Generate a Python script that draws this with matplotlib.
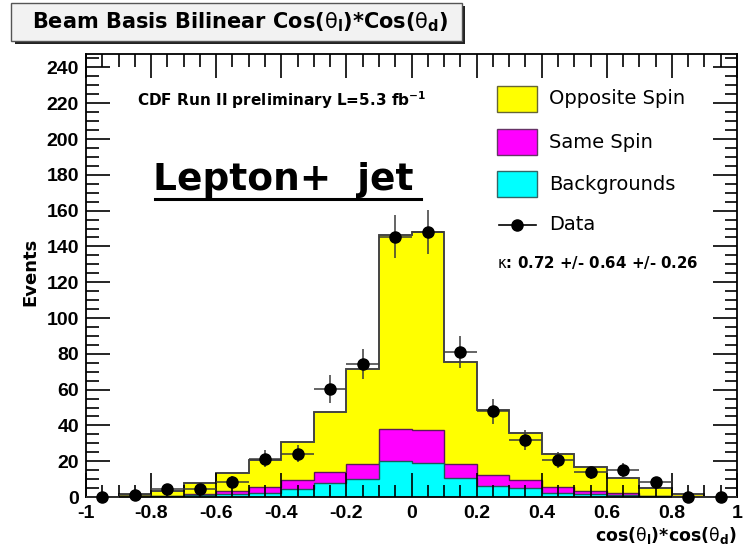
import numpy as np
import matplotlib
matplotlib.use('Agg')
import matplotlib.pyplot as plt
from matplotlib.patches import Rectangle
from matplotlib.lines import Line2D
from matplotlib.ticker import MultipleLocator

plt.rcParams['font.family'] = 'Liberation Sans'
plt.rcParams['mathtext.fontset'] = 'custom'
plt.rcParams['mathtext.rm'] = 'DejaVu Sans'
plt.rcParams['mathtext.it'] = 'DejaVu Sans:italic'
plt.rcParams['mathtext.bf'] = 'DejaVu Sans:bold'
plt.rcParams['mathtext.default'] = 'rm'

#### ========== Data ==========

binEdges = np.round(np.linspace(-1.0, 1.0, 21), 2)
binCenters = 0.5 * (binEdges[:-1] + binEdges[1:])

# stacked tops: opposite spin (total), same spin, backgrounds
oppositeTop = [0.0, 1.4, 3.4, 8.0, 13.3, 20.6, 31.0, 47.5, 71.5, 146.5,
               148.0, 75.2, 48.4, 35.8, 24.2, 16.6, 10.4, 5.2, 1.8, 0.0]
sameTop = [0.0, 0.2, 0.8, 1.8, 3.5, 5.6, 9.3, 13.8, 18.6, 38.0,
           37.2, 18.6, 12.5, 9.3, 5.4, 3.2, 2.0, 0.7, 0.3, 0.0]
bkgTop = [0.0, 0.1, 0.4, 1.0, 1.7, 2.2, 4.7, 7.8, 10.0, 20.3,
          19.0, 10.4, 6.0, 5.0, 2.4, 1.5, 1.1, 0.4, 0.1, 0.0]
dataY = [0.0, 1.2, 4.5, 4.5, 8.6, 21.4, 24.2, 60.3, 74.3, 145.4,
         148.2, 81.2, 47.9, 32.0, 20.5, 13.8, 15.3, 8.3, 0.0, 0.0]

legendLabels = ['Opposite Spin', 'Same Spin', 'Backgrounds', 'Data']

#### ====== Figure ======

W, H = 744, 546
def fx(px): return px / W
def fy(py): return 1.0 - py / H

fig = plt.figure(figsize=(7.44, 5.46), dpi=100)
ax = fig.add_axes([fx(86), fy(497), fx(737) - fx(86), fy(54) - fy(497)])

ax.stairs(oppositeTop, binEdges, fill=True, facecolor='#ffff00',
          edgecolor='#444444', linewidth=1.2)
ax.stairs(oppositeTop, binEdges, color='#444444', linewidth=1.2)
ax.stairs(sameTop, binEdges, fill=True, facecolor='#ff00ff')
ax.stairs(sameTop, binEdges, color='#5a1a5a', linewidth=1.0)
ax.stairs(bkgTop, binEdges, fill=True, facecolor='#00ffff')
ax.stairs(bkgTop, binEdges, color='#1a5a5a', linewidth=1.0)

yErr = np.sqrt(np.array(dataY))
ax.errorbar(binCenters, dataY, xerr=0.05, yerr=yErr, fmt='o',
            color='black', ecolor='#3a3a3a', markersize=8, elinewidth=1.1,
            capsize=0, clip_on=False, zorder=5)

ax.set_xlim(-1.0, 1.0)
ax.set_ylim(0, 247.5)

ax.xaxis.set_major_locator(MultipleLocator(0.2))
ax.xaxis.set_minor_locator(MultipleLocator(0.05))
ax.yaxis.set_major_locator(MultipleLocator(20))
ax.yaxis.set_minor_locator(MultipleLocator(5))
ax.tick_params(which='both', direction='in', top=True, right=True,
               width=1.2, labelsize=14)
ax.tick_params(which='major', length=17)
ax.tick_params(which='minor', length=9)
ax.tick_params(axis='x', which='major', pad=6)
ax.tick_params(axis='y', which='major', pad=5)
ax.xaxis.set_major_formatter(lambda v, p: '{:g}'.format(round(v, 2)))
for lab in ax.get_xticklabels() + ax.get_yticklabels():
    lab.set_fontweight('bold')
for s in ax.spines.values():
    s.set_linewidth(1.3)

# axis labels
fig.text(fx(30), fy(272), 'Events', rotation=90, ha='center', va='center',
         fontsize=13, fontweight='bold', family='DejaVu Sans')
fig.text(fx(737), fy(535),
         r'cos($\theta_{\mathbf{l}}$)*cos($\theta_{\mathbf{d}}$)',
         ha='right', va='center', fontsize=12.5, fontweight='bold',
         family='DejaVu Sans')

# title box with shadow
fig.add_artist(Rectangle((fx(15), fy(44)), fx(465) - fx(15), fy(6) - fy(44),
                         transform=fig.transFigure, facecolor='#222222',
                         edgecolor='none'))
fig.add_artist(Rectangle((fx(11), fy(41)), fx(462) - fx(11), fy(3) - fy(41),
                         transform=fig.transFigure, facecolor='#f2f2f2',
                         edgecolor='#555555', linewidth=1.0))
fig.text(fx(240), fy(22),
         r'Beam Basis Bilinear Cos($\theta_{\mathbf{l}}$)*Cos($\theta_{\mathbf{d}}$)',
         ha='center', va='center', fontsize=15, fontweight='bold',
         family='DejaVu Sans')

# annotations
fig.text(fx(137), fy(100), r'CDF Run II preliminary L=5.3 fb$^{\mathbf{-1}}$',
         ha='left', va='center', fontsize=11, fontweight='bold',
         family='DejaVu Sans')
fig.text(fx(153), fy(180), 'Lepton+  jet', ha='left', va='center',
         fontsize=27, fontweight='bold', family='DejaVu Sans')
fig.add_artist(Line2D([fx(155), fx(421)], [fy(199), fy(199)],
                      transform=fig.transFigure, color='black', linewidth=2.2))
fig.text(fx(497), fy(262), r'$\kappa$: 0.72 +/- 0.64 +/- 0.26',
         ha='left', va='center', fontsize=10.8, fontweight='bold',
         family='DejaVu Sans')

# legend
legendColors = ['#ffff00', '#ff00ff', '#00ffff']
legendEdges = ['#666633', '#663366', '#336666']
legendY = [99, 142, 184, 225]
for i in range(3):
    fig.add_artist(Rectangle((fx(497), fy(legendY[i] + 13)), fx(537) - fx(497),
                             fy(legendY[i] - 13) - fy(legendY[i] + 13),
                             transform=fig.transFigure,
                             facecolor=legendColors[i],
                             edgecolor=legendEdges[i], linewidth=1.0))
fig.add_artist(Line2D([fx(499), fx(536)], [fy(225), fy(225)],
                      transform=fig.transFigure, color='black', linewidth=1.2))
fig.add_artist(Line2D([fx(517)], [fy(225)], transform=fig.transFigure,
                      marker='o', color='black', markersize=8))
for i in range(4):
    fig.text(fx(549), fy(legendY[i]), legendLabels[i], ha='left',
             va='center', fontsize=14, family='DejaVu Sans')

fig.savefig('out.png', dpi=100)
